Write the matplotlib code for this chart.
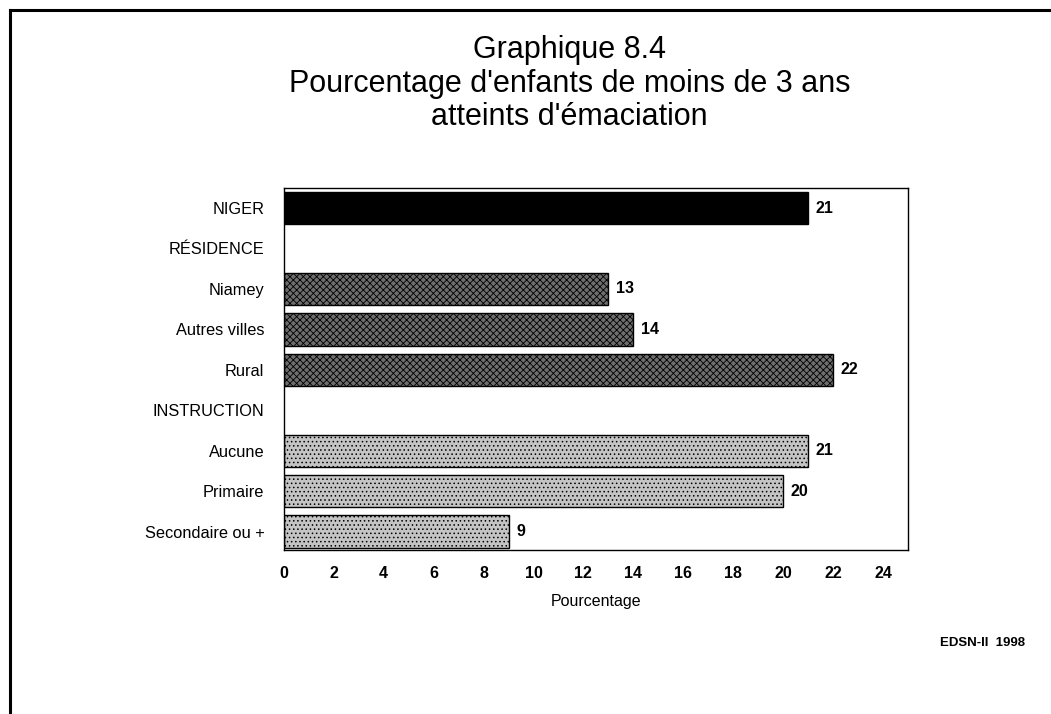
import matplotlib.pyplot as plt
from matplotlib.lines import Line2D

# Data
categories = ["NIGER", "RÉSIDENCE", "Niamey", "Autres villes", "Rural",
              "INSTRUCTION", "Aucune", "Primaire", "Secondaire ou +"]
values = [21, None, 13, 14, 22, None, 21, 20, 9]
groups = ["total", "header", "res", "res", "res", "header", "instr", "instr", "instr"]
x_ticks = [0, 2, 4, 6, 8, 10, 12, 14, 16, 18, 20, 22, 24]

title = "Graphique 8.4\nPourcentage d'enfants de moins de 3 ans\natteints d'émaciation"
source = "EDSN-II  1998"

plt.rcParams['font.family'] = ['Liberation Sans', 'DejaVu Sans']
plt.rcParams['hatch.linewidth'] = 0.6

fig = plt.figure(figsize=(10.51, 7.14), dpi=100)
ax = fig.add_axes([0.270, 0.230, 0.594, 0.507])

# style per group
face = {"total": "black", "res": "#6e6e6e", "instr": "#c4c4c4"}
hatch = {"total": None, "res": "xxxxx", "instr": "...."}

for i, (v, g) in enumerate(zip(values, groups)):
    if v is None:
        continue
    ax.barh(i, v, height=0.8, color=face[g], edgecolor="black",
            linewidth=1.0, hatch=hatch[g])
    ax.text(v + 0.3, i, str(v), va="center", ha="left",
            fontsize=11.5, fontweight="bold")

ax.set_yticks(range(len(categories)))
ax.set_yticklabels(categories, fontsize=11.8)
ax.set_ylim(len(categories) - 0.55, -0.5)
ax.set_xlim(0, 25)
ax.set_xticks(x_ticks)
ax.set_xticklabels([str(t) for t in x_ticks], fontsize=11.5, fontweight="bold")
ax.tick_params(length=0)
ax.tick_params(axis="x", pad=12)
ax.tick_params(axis="y", pad=14)
ax.set_xlabel("Pourcentage", fontsize=11.5, labelpad=9)
for s in ax.spines.values():
    s.set_linewidth(1.0)

fig.text(0.542, 0.951, title, ha="center", va="top", fontsize=22,
         linespacing=1.16)
fig.text(0.975, 0.099, source, ha="right", va="center", fontsize=9.5,
         fontweight="bold")

# page frame (left and top edges)
fig.add_artist(Line2D([0.0095, 0.0095], [0.0, 0.986], color="black",
                      linewidth=2.2, transform=fig.transFigure))
fig.add_artist(Line2D([0.0095, 1.0], [0.986, 0.986], color="black",
                      linewidth=2.2, transform=fig.transFigure))

fig.savefig("out.png", dpi=100)
